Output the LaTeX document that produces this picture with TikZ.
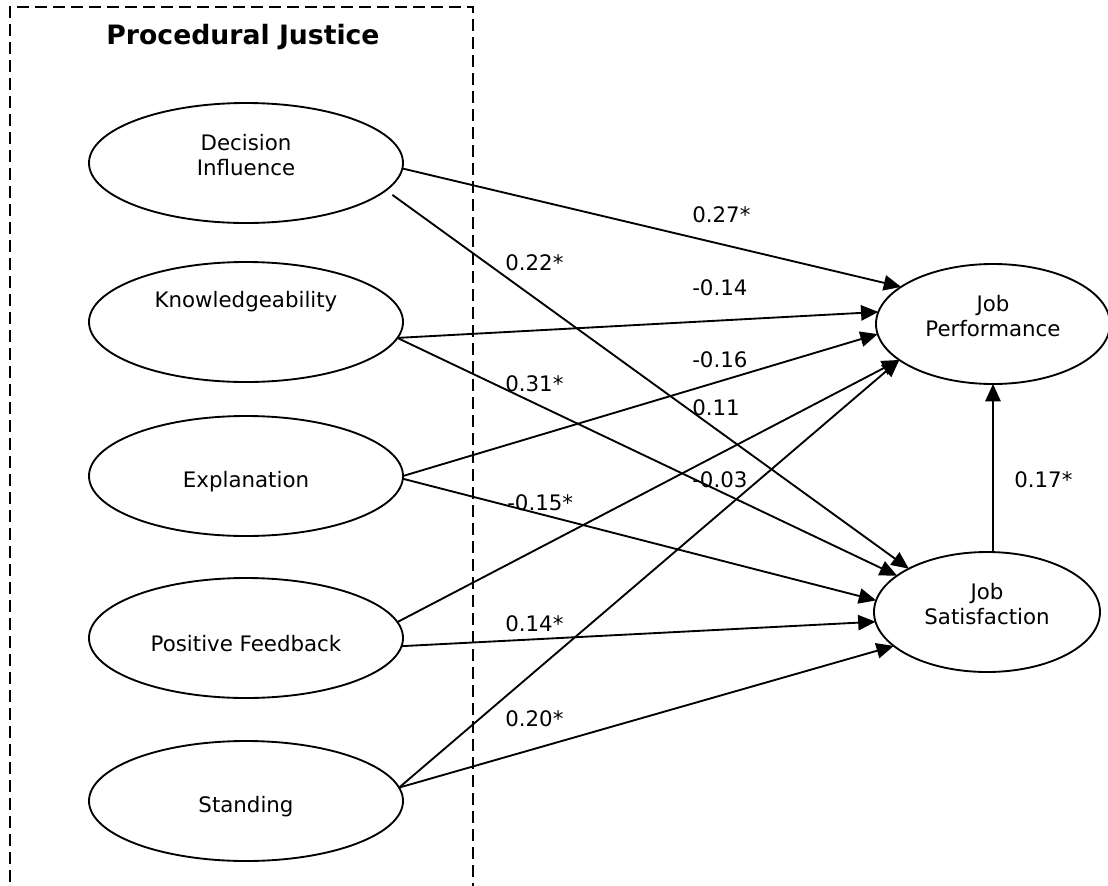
\documentclass[tikz,border=0pt]{standalone}
\usepackage{fontspec}
\setmainfont{DejaVu Sans}
\usetikzlibrary{arrows.meta,shapes.geometric}
\begin{document}
\begin{tikzpicture}[x=0.75pt,y=-0.75pt,
  ell/.style={draw,ellipse,line width=1.4pt,inner sep=0pt,outer sep=0pt,minimum width=235.5pt,minimum height=90pt},
  txt/.style={font=\fontsize{16}{19}\selectfont,align=center,inner sep=0pt},
  lab/.style={font=\fontsize{16}{19}\selectfont,inner sep=0pt,anchor=west},
  conn/.style={draw,line width=1.4pt,-{Triangle[length=13pt,width=11.5pt]}},
  framebox/.style={draw,line width=1.3pt,dash pattern=on 9pt off 4.5pt}
]
\useasboundingbox (0,0) rectangle (1108,886);
% dashed frame
\coordinate (fbl) at (10,900);
\coordinate (ftl) at (10,7);
\coordinate (ftr) at (473,7);
\coordinate (fbr) at (473,900);
\draw[framebox] (fbl) -- (ftl) -- (ftr) -- (fbr);
\node[font=\bfseries\fontsize{20}{24}\selectfont,inner sep=0pt] (title) at (243,37) {Procedural Justice};

% left ellipses
\node[ell] (di) at (246,163) {};
\node[ell] (kn) at (246,322) {};
\node[ell] (ex) at (246,476) {};
\node[ell] (pf) at (246,638) {};
\node[ell] (st) at (246,801) {};
\node[txt] (dit) at (246,155) {Decision\\Influence};
\node[txt] (knt) at (246,302) {Knowledgeability};
\node[txt] (ext) at (246,482) {Explanation};
\node[txt] (pft) at (246,644) {Positive Feedback};
\node[txt] (stt) at (246,807) {Standing};

% right ellipses
\node[ell,minimum width=175.5pt] (jp) at (993,324) {};
\node[ell,minimum width=169.5pt] (js) at (987,612) {};
\node[txt] (jpt) at (993,316) {Job\\Performance};
\node[txt] (jst) at (987,604) {Job\\Satisfaction};

% connectors
\draw[conn] (di.-2.6) -- (jp.158.6);
\draw[conn,shorten <=6pt] (di.-11.2) -- (js.151.6);
\draw[conn] (kn.-6.9) -- (jp.174.3);
\draw[conn] (kn.-6.9) -- (js.158.1);
\draw[conn] (ex.0) -- (jp.185.7);
\draw[conn] (ex.-1.6) -- (js.174);
\draw[conn] (pf.6.9) -- (jp.201);
\draw[conn] (pf.-3.5) -- (js.185.5);
\draw[conn] (st.5.2) -- (jp.201);
\draw[conn] (st.5.2) -- (js.200.8);
\draw[conn] (js.north -| jp.south) -- (jp.south);

% labels
\node[lab] (l1) at (692,215) {0.27*};
\node[lab] (l2) at (505,263) {0.22*};
\node[lab] (l3) at (692,288) {-0.14};
\node[lab] (l4) at (692,360) {-0.16};
\node[lab] (l5) at (505,384) {0.31*};
\node[lab] (l6) at (692,408) {0.11};
\node[lab] (l7) at (692,480) {-0.03};
\node[lab] (l8) at (507,503) {-0.15*};
\node[lab] (l9) at (505,624) {0.14*};
\node[lab] (l10) at (505,719) {0.20*};
\node[lab] (l11) at (1014,480) {0.17*};
\end{tikzpicture}
\end{document}
